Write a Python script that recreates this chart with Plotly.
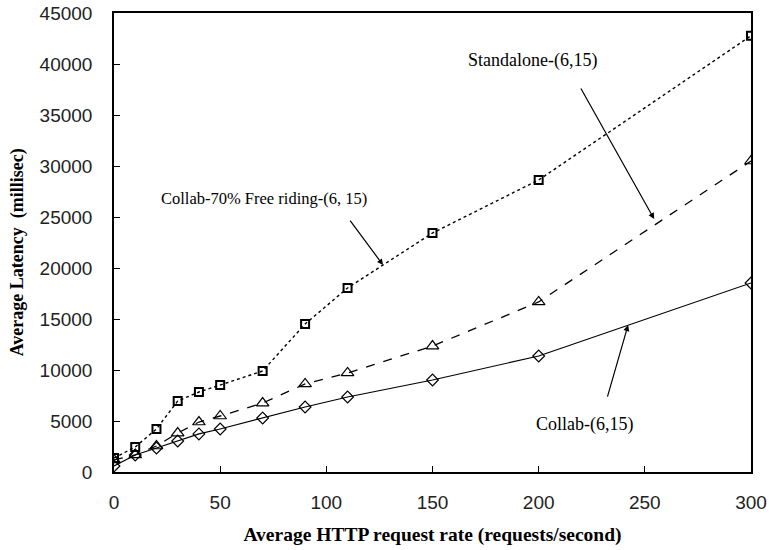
import plotly.graph_objects as go

rates = [0, 10, 20, 30, 40, 50, 70, 90, 110, 150, 200, 300]
free_riding = [1370, 2450, 4220, 6960, 7840, 8530, 9900, 14510, 18040, 23430, 28630, 42770]
standalone = [1180, 1670, 2550, 3820, 4900, 5490, 6760, 8630, 9710, 12350, 16670, 30490]
collab = [590, 1670, 2350, 3040, 3730, 4220, 5290, 6370, 7350, 9020, 11370, 18530]

x_ticks = [0, 50, 100, 150, 200, 250, 300]
y_ticks = [0, 5000, 10000, 15000, 20000, 25000, 30000, 35000, 40000, 45000]

fig = go.Figure()
fig.add_trace(go.Scatter(x=rates, y=free_riding, mode="lines+markers",
                         name="Collab-70% Free riding-(6, 15)",
                         line=dict(color="black", width=1.4, dash="dot"),
                         marker=dict(symbol="square-open", size=8, color="black",
                                     line=dict(width=2, color="black"))))
fig.add_trace(go.Scatter(x=rates, y=standalone, mode="lines+markers",
                         name="Standalone-(6,15)",
                         line=dict(color="black", width=1.3, dash="dash"),
                         marker=dict(symbol="triangle-up-open", size=11, color="black",
                                     line=dict(width=1.2, color="black"))))
fig.add_trace(go.Scatter(x=rates, y=collab, mode="lines+markers",
                         name="Collab-(6,15)",
                         line=dict(color="black", width=1.2),
                         marker=dict(symbol="diamond-open", size=9, color="black",
                                     line=dict(width=1.2, color="black"))))

label_font = dict(family="Liberation Serif", size=18, color="black")
arrow_kw = dict(xref="x", yref="y", axref="x", ayref="y", text="", showarrow=True,
                arrowhead=2, arrowsize=1, arrowwidth=1.2, arrowcolor="black",
                standoff=0, startstandoff=0)

annotations = [
    dict(x=254.4, y=24800, ax=219.5, ay=37750, **arrow_kw),
    dict(x=126.7, y=20290, ax=110.7, ay=24800, **arrow_kw),
    dict(x=242.1, y=14400, ax=232.2, ay=7250, **arrow_kw),
    dict(x=197.3, y=40300, xref="x", yref="y", text="Standalone-(6,15)",
         showarrow=False, font=label_font),
    dict(x=70.7, y=26800, xref="x", yref="y", text="Collab-70% Free riding-(6, 15)",
         showarrow=False, font=dict(family="Liberation Serif", size=16.5, color="black")),
    dict(x=221.8, y=4610, xref="x", yref="y", text="Collab-(6,15)",
         showarrow=False, font=label_font),
    dict(x=-0.152, y=0.479, xref="paper", yref="paper", xanchor="center", yanchor="middle",
         text="<b>Average Latency  (millisec)</b>", textangle=-90, showarrow=False,
         font=dict(family="Liberation Serif", size=18, color="black")),
]

axis_common = dict(showline=True, linecolor="black", linewidth=1.5, mirror=True,
                   ticks="inside", ticklen=6, tickcolor="black", tickwidth=1,
                   showgrid=False, zeroline=False, automargin=False,
                   tickfont=dict(family="Liberation Sans", size=19, color="#222"))

fig.update_layout(
    width=769, height=550,
    margin=dict(l=114, r=18, t=13, b=78),
    plot_bgcolor="white", paper_bgcolor="white",
    showlegend=False,
    annotations=annotations,
    xaxis=dict(range=[0, 300], tickvals=x_ticks, ticktext=[str(v) for v in x_ticks],
               ticklabelstandoff=12,
               title=dict(text="Average HTTP request rate (requests/second)",
                          font=dict(family="Liberation Serif", size=19.5, color="black",
                                    weight="bold"), standoff=16),
               **axis_common),
    yaxis=dict(range=[0, 45000], tickvals=y_ticks, ticktext=[str(v) for v in y_ticks],
               ticklabelstandoff=16,
               **axis_common),
)

fig.write_html("out.html", config={"displayModeBar": False},
               post_script="document.body.style.margin='0';")
